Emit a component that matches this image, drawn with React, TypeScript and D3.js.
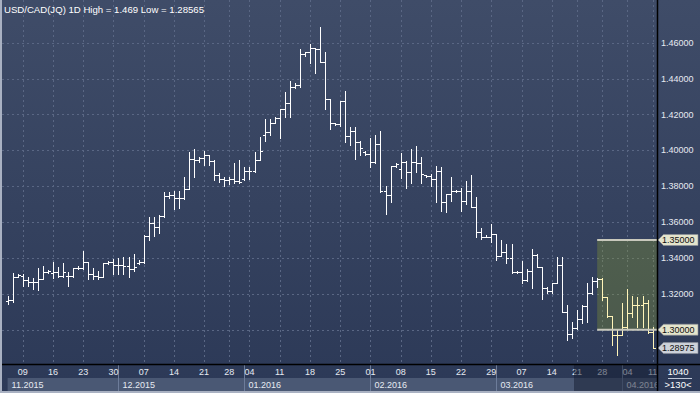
import React from 'react';
import * as d3 from 'd3';

// ---- data ----
const title = 'USD/CAD(JQ) 1D High = 1.469 Low = 1.28565';
const firstSession = '2015-11-05';
const lastSession = '2016-04-11';
const lastSundaySession = '2016-03-13';
const holidays = ['2015-12-25', '2015-12-31', '2016-01-01'];

const opens = [
  1.3160, 1.3165, 1.3296, 1.3299, 1.3277, 1.3264, 1.3264, 1.3281, 1.3320, 1.3314,
  1.3323, 1.3299, 1.3299, 1.3299, 1.3342, 1.3346, 1.3379, 1.3310, 1.3299, 1.3292,
  1.3370, 1.3377, 1.3361, 1.3361, 1.3355, 1.3337, 1.3372, 1.3378, 1.3522, 1.3596,
  1.3572, 1.3633, 1.3746, 1.3752, 1.3737, 1.3737, 1.3785, 1.3953, 1.3946, 1.3957,
  1.3974, 1.3942, 1.3863, 1.3839, 1.3835, 1.3839, 1.3830, 1.3840, 1.3887, 1.3887,
  1.3946, 1.4085, 1.4100, 1.4154, 1.4178, 1.4228, 1.4262, 1.4355, 1.4365, 1.4537,
  1.4546, 1.4568, 1.4563, 1.4494, 1.4284, 1.4150, 1.4145, 1.4275, 1.4080, 1.4108,
  1.4048, 1.3990, 1.3978, 1.3933, 1.4035, 1.3775, 1.3751, 1.3914, 1.3894, 1.3936,
  1.3877, 1.3936, 1.3927, 1.3860, 1.3857, 1.3840, 1.3886, 1.3714, 1.3756, 1.3773,
  1.3773, 1.3719, 1.3773, 1.3686, 1.3543, 1.3515, 1.3518, 1.3533, 1.3412, 1.3431,
  1.3401, 1.3323, 1.3323, 1.3277, 1.3330, 1.3416, 1.3351, 1.3231, 1.3218, 1.3258,
  1.3361, 1.3101, 1.2975, 1.3010, 1.3060, 1.3130, 1.3206, 1.3270, 1.3280, 1.3180,
  1.3076, 1.2970, 1.2970, 1.3017, 1.3095, 1.3138, 1.3138, 1.3147, 1.2989,
];
const highs = [
  1.3188, 1.3318, 1.3310, 1.3309, 1.3296, 1.3286, 1.3346, 1.3355, 1.3333, 1.3379,
  1.3348, 1.3370, 1.3323, 1.3346, 1.3357, 1.3439, 1.3379, 1.3342, 1.3327, 1.3374,
  1.3383, 1.3392, 1.3398, 1.3407, 1.3403, 1.3424, 1.3387, 1.3526, 1.3628, 1.3628,
  1.3641, 1.3765, 1.3765, 1.3774, 1.3774, 1.3850, 1.3992, 1.4007, 1.3962, 1.3996,
  1.3974, 1.3946, 1.3876, 1.3854, 1.3850, 1.3927, 1.3946, 1.3909, 1.3909, 1.3992,
  1.4076, 1.4174, 1.4174, 1.4184, 1.4228, 1.4327, 1.4386, 1.4373, 1.4563, 1.4550,
  1.4591, 1.4568, 1.4690, 1.4546, 1.4284, 1.4150, 1.4275, 1.4331, 1.4128, 1.4128,
  1.4054, 1.3995, 1.4067, 1.4085, 1.4108, 1.3803, 1.3914, 1.3930, 1.3983, 1.3942,
  1.4006, 1.4024, 1.3964, 1.3862, 1.3868, 1.3914, 1.3905, 1.3756, 1.3853, 1.3779,
  1.3792, 1.3829, 1.3862, 1.3738, 1.3565, 1.3528, 1.3589, 1.3533, 1.3500, 1.3478,
  1.3478, 1.3329, 1.3385, 1.3340, 1.3448, 1.3420, 1.3351, 1.3240, 1.3258, 1.3407,
  1.3407, 1.3138, 1.3045, 1.3110, 1.3140, 1.3258, 1.3296, 1.3290, 1.3286, 1.3180,
  1.3076, 1.2998, 1.3147, 1.3225, 1.3188, 1.3184, 1.3190, 1.3166, 1.3017,
];
const lows = [
  1.3141, 1.3156, 1.3292, 1.3244, 1.3244, 1.3229, 1.3221, 1.3281, 1.3314, 1.3290,
  1.3296, 1.3296, 1.3245, 1.3296, 1.3338, 1.3338, 1.3283, 1.3283, 1.3283, 1.3292,
  1.3364, 1.3310, 1.3310, 1.3310, 1.3296, 1.3330, 1.3368, 1.3374, 1.3500, 1.3522,
  1.3541, 1.3628, 1.3733, 1.3672, 1.3676, 1.3728, 1.3783, 1.3854, 1.3933, 1.3918,
  1.3918, 1.3835, 1.3822, 1.3802, 1.3815, 1.3820, 1.3820, 1.3835, 1.3839, 1.3880,
  1.3946, 1.4054, 1.4085, 1.4150, 1.4067, 1.4187, 1.4187, 1.4350, 1.4351, 1.4527,
  1.4488, 1.4433, 1.4494, 1.4228, 1.4117, 1.4139, 1.4135, 1.4048, 1.4030, 1.3950,
  1.3974, 1.3974, 1.3909, 1.3927, 1.3769, 1.3643, 1.3710, 1.3905, 1.3844, 1.3788,
  1.3819, 1.3881, 1.3816, 1.3849, 1.3801, 1.3710, 1.3663, 1.3654, 1.3717, 1.3769,
  1.3663, 1.3699, 1.3686, 1.3518, 1.3504, 1.3515, 1.3491, 1.3389, 1.3411, 1.3370,
  1.3318, 1.3314, 1.3262, 1.3270, 1.3231, 1.3351, 1.3169, 1.3206, 1.3206, 1.3258,
  1.3101, 1.2945, 1.2955, 1.3005, 1.3040, 1.3045, 1.3200, 1.3240, 1.3166, 1.3073,
  1.2915, 1.28565, 1.2970, 1.3002, 1.3073, 1.3017, 1.3017, 1.2980, 1.2896,
];
const closes = [
  1.3165, 1.3296, 1.3305, 1.3277, 1.3264, 1.3264, 1.3281, 1.3320, 1.3329, 1.3323,
  1.3299, 1.3323, 1.3299, 1.3342, 1.3346, 1.3379, 1.3310, 1.3299, 1.3292, 1.3370,
  1.3377, 1.3361, 1.3361, 1.3355, 1.3337, 1.3350, 1.3378, 1.3522, 1.3596, 1.3572,
  1.3633, 1.3746, 1.3752, 1.3737, 1.3737, 1.3785, 1.3953, 1.3946, 1.3957, 1.3974,
  1.3942, 1.3863, 1.3839, 1.3835, 1.3839, 1.3830, 1.3826, 1.3887, 1.3887, 1.3946,
  1.3998, 1.4100, 1.4154, 1.4178, 1.4228, 1.4262, 1.4351, 1.4365, 1.4537, 1.4546,
  1.4568, 1.4563, 1.4494, 1.4284, 1.4150, 1.4145, 1.4275, 1.4080, 1.4108, 1.4048,
  1.4015, 1.3978, 1.3933, 1.4035, 1.3775, 1.3751, 1.3914, 1.3924, 1.3936, 1.3877,
  1.3936, 1.3927, 1.3868, 1.3857, 1.3840, 1.3886, 1.3714, 1.3756, 1.3773, 1.3773,
  1.3719, 1.3773, 1.3686, 1.3543, 1.3515, 1.3518, 1.3533, 1.3412, 1.3431, 1.3401,
  1.3323, 1.3323, 1.3277, 1.3330, 1.3416, 1.3351, 1.3231, 1.3218, 1.3258, 1.3361,
  1.3101, 1.2975, 1.3010, 1.3060, 1.3130, 1.3206, 1.3270, 1.3280, 1.3180, 1.3076,
  1.2970, 1.2970, 1.3017, 1.3095, 1.3138, 1.3138, 1.3147, 1.2989, 1.28975,
];

const yTicks = [1.30, 1.32, 1.34, 1.36, 1.38, 1.40, 1.42, 1.44, 1.46];
const boxStartDate = '2016-03-25';
const boxTop = 1.35;
const boxBottom = 1.30;
const highlightFromDate = '2016-03-28';
const shadeFromDate = '2016-03-21';
const lastPrice = 1.28975;
const footerTop = '1040';
const footerBottom = '>130<';

// ---- helpers ----
const iso = (d: Date) => d.toISOString().slice(0, 10);
function buildSessions(): string[] {
  const out: string[] = [];
  const end = new Date(lastSession + 'T00:00:00Z').getTime();
  const sunEnd = new Date(lastSundaySession + 'T00:00:00Z').getTime();
  for (let t = new Date(firstSession + 'T00:00:00Z').getTime(); t <= end; t += 86400000) {
    const d = new Date(t);
    const dow = d.getUTCDay();
    const k = iso(d);
    if (dow === 6) continue;
    if (dow === 0 && t > sunEnd) continue;
    if (holidays.includes(k)) continue;
    out.push(k);
  }
  return out;
}
const dates = buildSessions();

const W = 700, H = 393;
const PR = 657; // plot right
const PB = 364; // plot bottom
const FONT = 'Liberation Sans, Arial, sans-serif';

export default function App() {
  const x = d3.scalePoint<string>().domain(dates).range([7.6, 652.6]);
  const y = d3.scaleLinear().domain([1.30, 1.46]).range([329.7, 42.7]);
  const px = (d: string) => Math.round(x(d) as number) + 0.5;
  const py = (v: number) => Math.round(y(v)) + 0.5;

  const mondays = dates.filter(d => new Date(d + 'T00:00:00Z').getUTCDay() === 1);
  const monthStarts: string[] = [];
  dates.forEach((d, i) => {
    if (i === 0 || d.slice(0, 7) !== dates[i - 1].slice(0, 7)) monthStarts.push(d);
  });
  const fmt = (v: number) => v.toFixed(5);
  const boxX = x(boxStartDate) as number;
  const shadeX = (x(shadeFromDate) as number) - 3;

  const tag = (v: number, fill: string, key: string) => {
    const yy = y(v);
    return (
      <g key={key}>
        <polygon
          points={`658,${yy} 663.5,${yy - 5.5} 698,${yy - 5.5} 698,${yy + 5.5} 663.5,${yy + 5.5}`}
          fill={fill} stroke="#8a8f98" strokeWidth={0.6} />
        <text x={662} y={yy} dy="0.35em" fontSize={9} fill="#101010" fontFamily={FONT}>{fmt(v)}</text>
      </g>
    );
  };

  return (
    <svg width={W} height={H} style={{ position: 'fixed', left: 0, top: 0 }}>
      <defs>
        <linearGradient id="bg" x1="0" y1="0" x2="0" y2="1">
          <stop offset="0" stopColor="#3f4c68" />
          <stop offset="1" stopColor="#2c3957" />
        </linearGradient>
        <clipPath id="plot"><rect x={2} y={0} width={PR - 2} height={PB} /></clipPath>
        <clipPath id="axis"><rect x={2} y={PB} width={PR - 2} height={H - PB} /></clipPath>
      </defs>
      <rect x={0} y={0} width={W} height={H} fill="url(#bg)" />

      <g clipPath="url(#plot)">
        {yTicks.map(v => (
          <line key={'h' + v} x1={2} x2={PR} y1={py(v)} y2={py(v)} stroke="#5a6784" strokeDasharray="2,3" />
        ))}
        {mondays.map(d => (
          <line key={'v' + d} x1={px(d)} x2={px(d)} y1={0} y2={PB} stroke="#5a6784" strokeDasharray="2,3" />
        ))}
        <rect x={boxX} y={y(boxTop)} width={PR - boxX} height={y(boxBottom) - y(boxTop)} fill="#8a9a30" opacity={0.33} />
        {dates.map((d, i) => {
          const cx = px(d);
          const col = d >= highlightFromDate ? '#fff4b8' : '#ffffff';
          return (
            <g key={d} stroke={col} strokeWidth={1}>
              <line x1={cx} x2={cx} y1={py(highs[i]) - 0.5} y2={py(lows[i]) + 0.5} />
              <line x1={cx - 2.5} x2={cx} y1={py(opens[i])} y2={py(opens[i])} />
              <line x1={cx} x2={cx + 2.5} y1={py(closes[i])} y2={py(closes[i])} />
            </g>
          );
        })}
      </g>
      {[boxTop, boxBottom].map(v => (
        <line key={'bl' + v} x1={boxX} x2={660} y1={y(v)} y2={y(v)} stroke="#c8c8bc" strokeWidth={2} />
      ))}

      <text x={4} y={13} fontSize={9.6} fill="#ffffff" fontFamily={FONT}>{title}</text>

      {/* right axis labels */}
      {yTicks.filter(v => Math.abs(v - boxBottom) > 1e-9).map(v => (
        <text key={'yl' + v} x={661} y={y(v)} dy="0.35em" fontSize={9} fill="#e6eaf2" fontFamily={FONT}>{fmt(v)}</text>
      ))}
      {tag(boxTop, '#e4e4cc', 't1')}
      {tag(boxBottom, '#e4e4cc', 't2')}
      {tag(lastPrice, '#cdd2da', 't3')}

      {/* x axis */}
      <g clipPath="url(#axis)">
        {monthStarts.map((d, i) => {
          const x0 = i === 0 ? (x(d) as number) : px(d);
          const x1 = i < monthStarts.length - 1 ? px(monthStarts[i + 1]) : PR;
          return (
            <g key={'m' + d}>
              <rect x={x0} y={378} width={x1 - x0} height={13} fill="#4a5874" />
              {i > 0 && <line x1={x0} x2={x0} y1={PB} y2={391} stroke="#6d7c9a" />}
              <text x={x0 + 4} y={388} fontSize={9} fill="#e6eaf2" fontFamily={FONT}>
                {d.slice(5, 7) + '.' + d.slice(0, 4)}
              </text>
            </g>
          );
        })}
        {mondays.map(d => (
          <text key={'dl' + d} x={x(d) as number} y={375} textAnchor="middle" fontSize={9} fill="#e6eaf2" fontFamily={FONT}>
            {d.slice(8, 10)}
          </text>
        ))}
        <rect x={shadeX} y={PB} width={PR - shadeX} height={27} fill="#141c30" opacity={0.5} />
      </g>

      {/* frame lines */}
      <line x1={0} x2={W} y1={PB + 0.5} y2={PB + 0.5} stroke="#000" strokeWidth={1.5} />
      <line x1={PR + 0.5} x2={PR + 0.5} y1={0} y2={H} stroke="#000" strokeWidth={1.5} />
      <rect x={0} y={0} width={2} height={H} fill="#a9b1c2" />
      <rect x={0} y={391} width={W} height={2} fill="#a9b1c2" />

      <text x={678} y={375} textAnchor="middle" fontSize={9.5} fill="#ffffff" fontFamily={FONT}>{footerTop}</text>
      <line x1={668} x2={692} y1={378.5} y2={378.5} stroke="#c0c8d8" />
      <text x={678} y={388} textAnchor="middle" fontSize={9.5} fill="#ffffff" fontFamily={FONT}>{footerBottom}</text>
    </svg>
  );
}
